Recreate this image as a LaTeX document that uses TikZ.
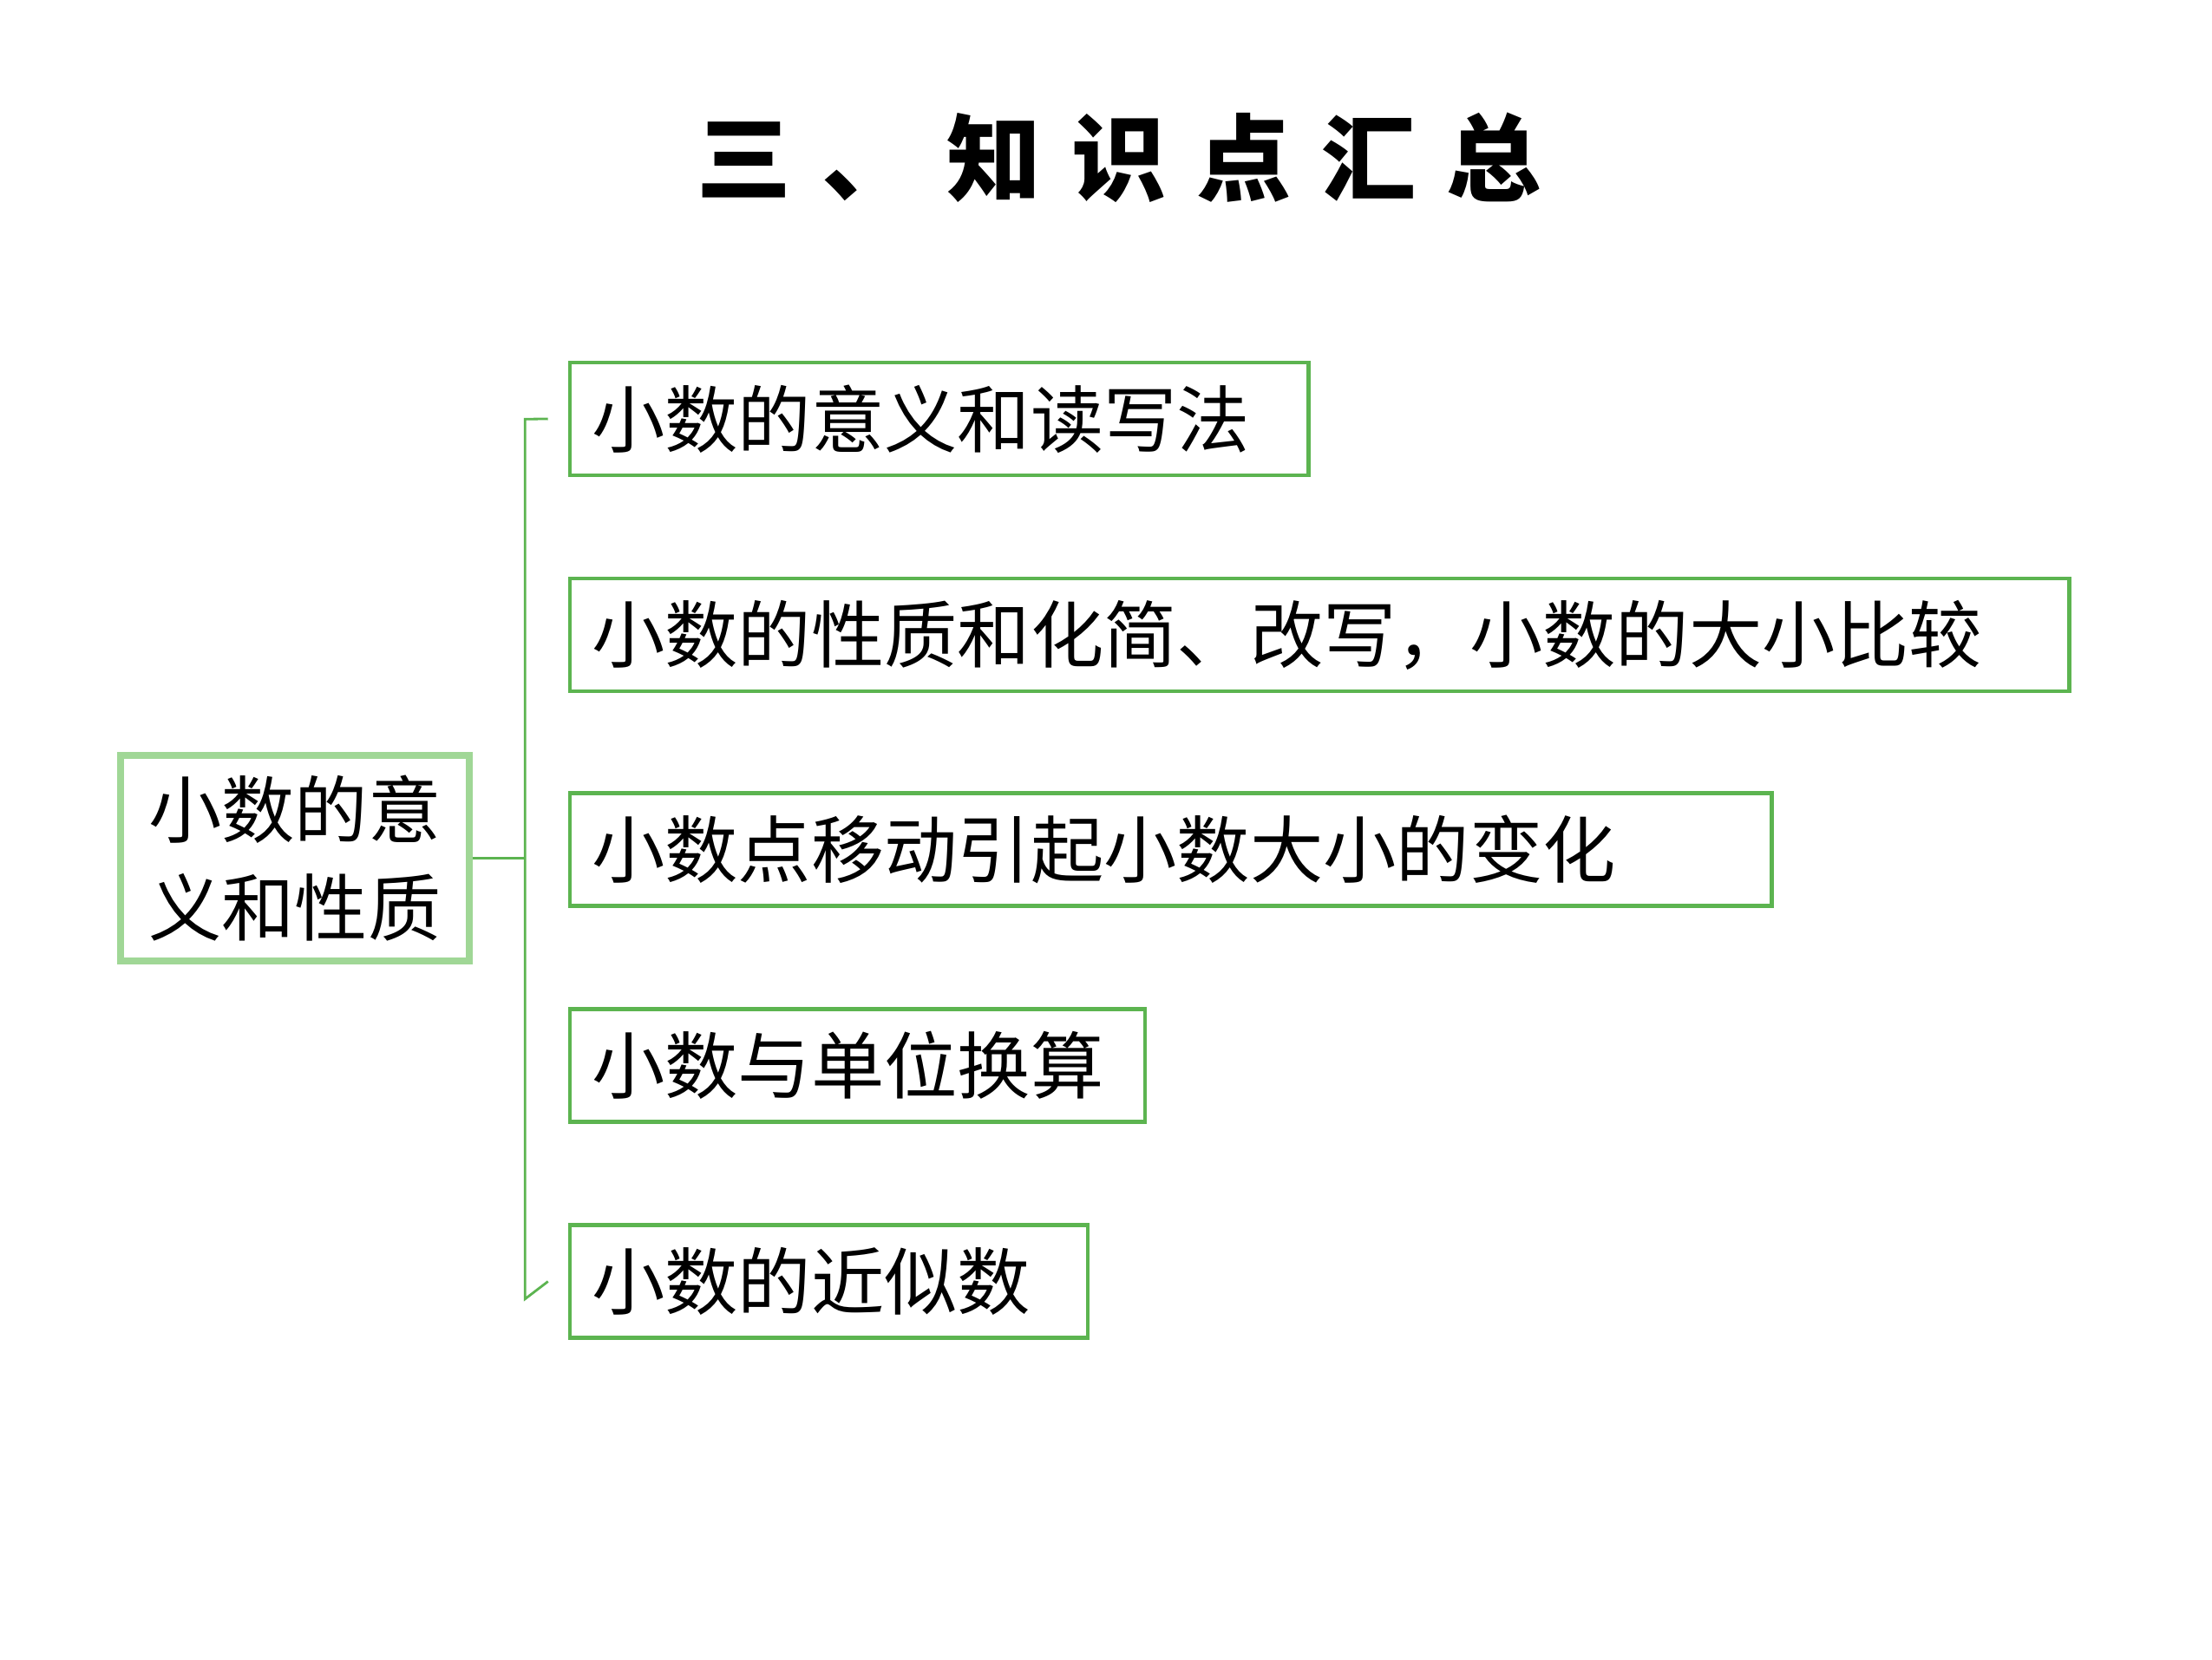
\documentclass[tikz,border=0pt]{standalone}
\usepackage{fontspec}
\newfontfamily\cjk{Noto Sans CJK SC}
\usetikzlibrary{positioning}
\definecolor{boxgreen}{RGB}{92,180,80}
\definecolor{lightgreen}{RGB}{160,215,150}
\tikzset{
  item/.style={draw=boxgreen,line width=1.3pt,anchor=north west,minimum height=1.3cm,
    inner xsep=0.25cm,align=left,font=\cjk\fontsize{24}{29}\selectfont},
  root/.style={draw=lightgreen,line width=2.2pt,minimum width=4.02cm,minimum height=2.37cm,
    align=center,font=\cjk\fontsize{24}{32}\selectfont},
  link/.style={draw=boxgreen,line width=0.8pt}
}
\begin{document}
\begin{tikzpicture}[x=0.01649cm,y=-0.01649cm]
\useasboundingbox[fill=white] (0,0) rectangle (1546,1160);
\node[font=\cjk\bfseries\fontsize{31}{36}\selectfont] (title) at (782,110)
  {三\hspace{0.35cm}、\hspace{0.35cm}知\hspace{0.35cm}识\hspace{0.35cm}点\hspace{0.35cm}汇\hspace{0.35cm}总};
\node[root] (main) at (206,600) {小数的意\\义和性质};

% branches
\foreach \n/\y/\w/\t in {a/252/516/小数的意义和读写法,
                         b/403/1048/小数的性质和化简、改写，小数的大小比较,
                         c/553/840/小数点移动引起小数大小的变化,
                         d/704/402/小数与单位换算,
                         e/855/362/小数的近似数}
  \node[item,minimum width=\w*0.01649cm,text width=\w*0.01649cm-0.5cm] (\n) at (397,\y) {\t};

\coordinate (top) at (367,293);
\coordinate (bot) at (367,908);
\coordinate (mid) at (367,600);
\draw[link] (main.east) -- (mid);
\draw[link] ([xshift=-14*0.01649cm]a.west) -- (top) -- (bot) -- ([xshift=-14*0.01649cm]e.west);
\end{tikzpicture}
\end{document}
